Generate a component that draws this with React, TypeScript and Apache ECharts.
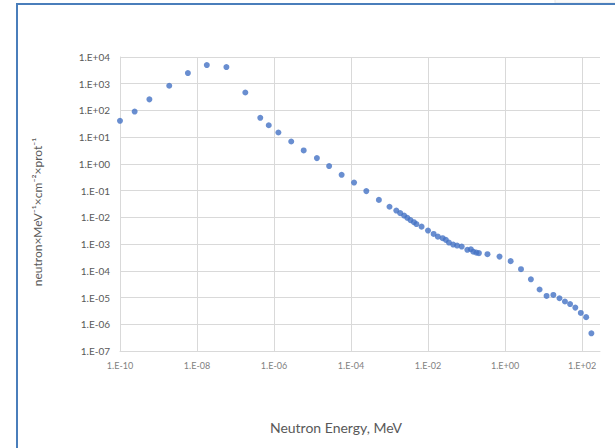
import React, { useEffect, useRef } from "react";
import * as echarts from "echarts";

// Neutron energy (MeV)
const energyMeV = [
  1.0e-10, 2.4e-10, 5.8e-10, 1.9e-9, 5.8e-9, 1.8e-8, 5.8e-8, 1.8e-7, 4.4e-7, 7.3e-7,
  1.3e-6, 2.8e-6, 5.9e-6, 1.3e-5, 2.7e-5, 5.7e-5, 1.2e-4, 2.5e-4, 5.3e-4, 1.0e-3,
  1.5e-3, 1.9e-3, 2.4e-3, 2.9e-3, 3.5e-3, 4.3e-3, 5.0e-3, 6.8e-3, 1.0e-2, 1.4e-2,
  1.8e-2, 2.4e-2, 2.9e-2, 3.5e-2, 4.5e-2, 5.7e-2, 7.5e-2, 1.05e-1, 1.3e-1, 1.5e-1,
  1.8e-1, 2.1e-1, 3.5e-1, 7.2e-1, 1.4, 2.6, 4.7, 7.9, 12, 18,
  26, 36, 49, 67, 93, 128, 175,
];

// Flux, neutron x MeV^-1 x cm^-2 x prot^-1
const flux = [
  41, 91, 260, 840, 2500, 5000, 4200, 470, 53, 28,
  15, 6.9, 3.2, 1.65, 0.83, 0.39, 0.2, 0.096, 0.045, 0.025,
  0.018, 0.0144, 0.0117, 0.0096, 0.0079, 0.0066, 0.0056, 0.0045, 0.0032, 0.0024,
  0.0019, 0.00166, 0.00144, 0.00114, 9.6e-4, 8.8e-4, 8.1e-4, 6.1e-4, 6.4e-4, 5.2e-4,
  4.8e-4, 4.6e-4, 4.2e-4, 3.4e-4, 2.3e-4, 1.15e-4, 4.8e-5, 2.0e-5, 1.15e-5, 1.25e-5,
  9.4e-6, 7.1e-6, 5.7e-6, 4.2e-6, 2.65e-6, 1.85e-6, 4.6e-7,
];

const xTickExponents = [-10, -8, -6, -4, -2, 0, 2];
const xTickLabels = ["1.E-10", "1.E-08", "1.E-06", "1.E-04", "1.E-02", "1.E+00", "1.E+02"];
const yTickExponents = [-7, -6, -5, -4, -3, -2, -1, 0, 1, 2, 3, 4];
const yTickLabels = [
  "1.E-07", "1.E-06", "1.E-05", "1.E-04", "1.E-03", "1.E-02",
  "1.E-01", "1.E+00", "1.E+01", "1.E+02", "1.E+03", "1.E+04",
];
const xMinMeV = 1e-10;
const xMaxMeV = 293;
const yMin = 1e-7;
const yMax = 1e4;

const xTitle = "Neutron Energy, MeV";
const yTitle = "neutron×MeV⁻¹×cm⁻²×prot⁻¹";

const FONT = "Lato, 'Open Sans', sans-serif";

function labelFor(v: number, exps: number[], labels: string[]) {
  const i = exps.findIndex((e) => Math.abs(e - v) < 1e-6);
  return i >= 0 ? labels[i] : "";
}

export default function App() {
  const ref = useRef<HTMLDivElement>(null);
  useEffect(() => {
    if (!ref.current) return;
    const chart = echarts.init(ref.current, undefined, { renderer: "svg" });
    const data = energyMeV.map((e, i) => [Math.log10(e), Math.log10(flux[i])]);
    const gridColor = "#d9d9d9";
    chart.setOption({
      animation: false,
      backgroundColor: "#ffffff",
      grid: { left: 120, top: 57, width: 480, height: 294, containLabel: false },
      xAxis: {
        type: "value",
        min: Math.log10(xMinMeV),
        max: Math.log10(xMaxMeV),
        interval: 2,
        axisLine: { show: true, onZero: false, lineStyle: { color: gridColor, width: 1 } },
        axisTick: { show: false },
        splitLine: { show: true, showMaxLine: false, lineStyle: { color: gridColor, width: 1 } },
        axisLabel: {
          color: "#7f7f7f",
          fontSize: 9,
          fontFamily: FONT,
          margin: 10,
          showMaxLabel: false,
          formatter: (v: number) => labelFor(v, xTickExponents, xTickLabels),
        },
      },
      yAxis: {
        type: "value",
        min: Math.log10(yMin),
        max: Math.log10(yMax),
        interval: 1,
        axisLine: { show: true, onZero: false, lineStyle: { color: gridColor, width: 1 } },
        axisTick: { show: false },
        splitLine: { show: true, lineStyle: { color: gridColor, width: 1 } },
        axisLabel: {
          color: "#595959",
          fontSize: 10,
          fontFamily: FONT,
          margin: 10,
          formatter: (v: number) => labelFor(v, yTickExponents, yTickLabels),
        },
      },
      series: [
        {
          type: "scatter",
          data,
          symbol: "circle",
          symbolSize: 6,
          itemStyle: { color: "#4472C4" },
        },
      ],
      graphic: [
        { type: "rect", shape: { x: 555, y: -1, width: 62, height: 4 }, style: { fill: "#fafafa", stroke: "#e6e6e6", lineWidth: 1 }, silent: true },
        { type: "line", shape: { x1: 16, y1: 4, x2: 615, y2: 4 }, style: { stroke: "#4a7ebb", lineWidth: 2 }, silent: true },
        { type: "line", shape: { x1: 17, y1: 3, x2: 17, y2: 448 }, style: { stroke: "#4a7ebb", lineWidth: 2 }, silent: true },
        {
          type: "text",
          x: 336,
          y: 427,
          style: { text: xTitle, fill: "#595959", fontSize: 14, fontFamily: FONT, align: "center", verticalAlign: "middle" },
          silent: true,
        },
        {
          type: "text",
          x: 37,
          y: 212,
          rotation: Math.PI / 2,
          style: { text: yTitle, fill: "#595959", fontSize: 12, fontFamily: FONT, align: "center", verticalAlign: "middle" },
          silent: true,
        },
      ],
    });
    return () => chart.dispose();
  }, []);
  return (
    <div
      ref={ref}
      style={{ position: "fixed", left: 0, top: 0, width: 615, height: 448, background: "#fff" }}
    />
  );
}
